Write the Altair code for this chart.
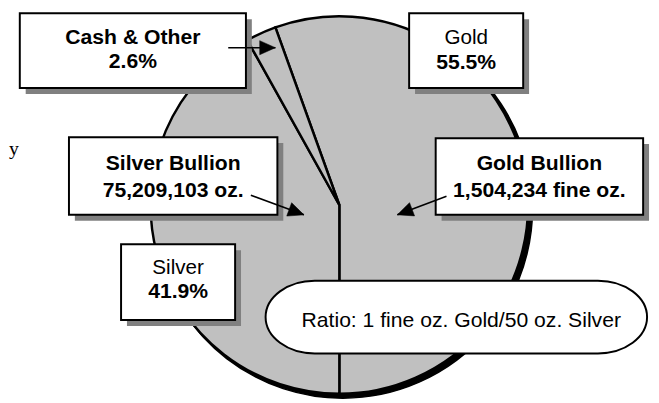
import math
import pandas as pd
import altair as alt

# ---------------- data ----------------
slices = ["Gold", "Silver", "Cash & Other"]
shares = [55.5, 41.9, 2.6]
pie_cx = [338]
pie_cy = [202]

box_line1 = ["Cash & Other", "Gold", "Silver Bullion", "Gold Bullion", "Silver"]
box_line2 = ["2.6%", "55.5%", "75,209,103 oz.", "1,504,234 fine oz.", "41.9%"]
line1_bold = [True, False, True, True, False]
box_x1 = [13, 409, 63, 436, 116]
box_x2 = [243, 525, 275, 647, 232]
box_y1 = [7, 7, 133, 134, 242]
box_y2 = [83, 83, 212, 212, 319]
line1_y = [32, 32, 160, 160, 266]
line2_y = [57, 58, 188, 188, 291]

note_text = ["Ratio: 1 fine oz. Gold/50 oz. Silver"]
note_x = [457]
note_y = [316]
note_text_x = [462]
note_text_y = [320]

arrow_x1 = [225, 248, 447]
arrow_y1 = [42, 192, 193]
arrow_x2 = [273, 302, 397]
arrow_y2 = [42, 212, 212]

stray_text = ["y"]
stray_x = [2]
stray_y = [151]

# ---------------- tables ----------------
FONT = "Liberation Sans"
SHADOW = 6

xs = alt.Scale(domain=[8, 651], nice=False, zero=False)
ys = alt.Scale(domain=[8, 395], nice=False, zero=False, reverse=True)

def X(f):
    return alt.X(f, type="quantitative", scale=xs, axis=None)

def Y(f):
    return alt.Y(f, type="quantitative", scale=ys, axis=None)

pie = pd.DataFrame({"slice": slices, "val": shares, "ord": range(len(slices)),
                    "cx": pie_cx * len(slices), "cy": pie_cy * len(slices)})
pie["sx"] = pie["cx"] + 3.5
pie["sy"] = pie["cy"] + 3.5
start = math.pi - 2 * math.pi * shares[0] / 100.0
theta = alt.Theta("val:Q", stack=True, scale=alt.Scale(range=[start, start + 2 * math.pi]))

pie_shadow = alt.Chart(pie).mark_arc(radius=193, fill="black", stroke="black", strokeWidth=1.5).encode(
    theta=theta, order=alt.Order("ord:Q"), x=X("sx"), y=Y("sy"))
pie_main = alt.Chart(pie).mark_arc(radius=192, fill="#c0c0c0", stroke="black", strokeWidth=2.5).encode(
    theta=theta, order=alt.Order("ord:Q"), x=X("cx"), y=Y("cy"))

boxes = pd.DataFrame({"x1": box_x1, "x2": box_x2, "y1": box_y1, "y2": box_y2})
boxes["sx1"] = boxes["x1"] + SHADOW
boxes["sx2"] = boxes["x2"] + SHADOW
boxes["sy1"] = boxes["y1"] + SHADOW
boxes["sy2"] = boxes["y2"] + SHADOW

box_shadow = alt.Chart(boxes).mark_rect(fill="#808080").encode(
    x=X("sx1"), x2="sx2", y=Y("sy1"), y2="sy2")
box_main = alt.Chart(boxes).mark_rect(fill="white", stroke="black", strokeWidth=2).encode(
    x=X("x1"), x2="x2", y=Y("y1"), y2="y2")

rows = []
for i in range(len(box_line1)):
    cx = (box_x1[i] + box_x2[i]) / 2
    rows.append({"t": box_line1[i], "x": cx, "y": line1_y[i], "bold": line1_bold[i]})
    rows.append({"t": box_line2[i], "x": cx, "y": line2_y[i], "bold": True})
texts = pd.DataFrame(rows)

text_bold = alt.Chart(texts[texts["bold"]]).mark_text(
    font=FONT, fontSize=21.5, fontWeight="bold", color="black", baseline="middle", align="center").encode(
    x=X("x"), y=Y("y"), text="t:N")
text_reg = alt.Chart(texts[~texts["bold"]]).mark_text(
    font=FONT, fontSize=21, color="black", baseline="middle", align="center").encode(
    x=X("x"), y=Y("y"), text="t:N")

# rounded "ellipse" note box
W = 388.0
H = 74.0
RX = 50.0
s = W / 2
a = 1 - RX / s
r = RX / s
h = (H / 2) / s
k = 0.5523
path = (f"M{-a},{-h}L{a},{-h}"
        f"C{a + k * r},{-h} {a + r},{-k * h} {a + r},0"
        f"C{a + r},{k * h} {a + k * r},{h} {a},{h}"
        f"L{-a},{h}"
        f"C{-a - k * r},{h} {-a - r},{k * h} {-a - r},0"
        f"C{-a - r},{-k * h} {-a - k * r},{-h} {-a},{-h}Z")
note = pd.DataFrame({"x": note_x, "y": note_y, "tx": note_text_x, "ty": note_text_y, "t": note_text})
note_shape = alt.Chart(note).mark_point(
    shape=path, size=W * W, filled=True, fill="white", stroke="black", strokeWidth=2, opacity=1).encode(
    x=X("x"), y=Y("y"))
note_label = alt.Chart(note).mark_text(
    font=FONT, fontSize=21.5, color="black", baseline="middle", align="center").encode(
    x=X("tx"), y=Y("ty"), text="t:N")

arrows = pd.DataFrame({"x1": arrow_x1, "y1": arrow_y1, "x2": arrow_x2, "y2": arrow_y2})
HEAD = 16.0
hx, hy, ang = [], [], []
for x1, y1, x2, y2 in zip(arrow_x1, arrow_y1, arrow_x2, arrow_y2):
    dx, dy = x2 - x1, y2 - y1
    L = math.hypot(dx, dy)
    hx.append(x2 - dx / L * HEAD / 2)
    hy.append(y2 - dy / L * HEAD / 2)
    ang.append(math.degrees(math.atan2(dx, -dy)) % 360)
arrows["hx"] = hx
arrows["hy"] = hy
arrows["ang"] = ang

arrow_lines = alt.Chart(arrows).mark_rule(color="black", strokeWidth=1.6).encode(
    x=X("x1"), x2="x2", y=Y("y1"), y2="y2")
head_path = "M0,-1L0.9,1L-0.9,1Z"
arrow_heads = alt.Chart(arrows).mark_point(
    shape=head_path, size=HEAD * HEAD, filled=True, fill="black", stroke="black", strokeWidth=0.5, opacity=1).encode(
    x=X("hx"), y=Y("hy"), angle=alt.Angle("ang:Q", scale=None))

stray = pd.DataFrame({"x": stray_x, "y": stray_y, "t": stray_text})
stray_label = alt.Chart(stray).mark_text(
    font="Liberation Serif", fontSize=20, color="black", align="left", baseline="alphabetic").encode(
    x=X("x"), y=Y("y"), text="t:N")

chart = alt.layer(
    pie_shadow, pie_main, box_shadow, box_main, note_shape, note_label,
    text_bold, text_reg, arrow_lines, arrow_heads, stray_label
).properties(width=643, height=387, padding=0, background="white").configure_view(stroke=None)

chart.save("out.html", embed_options={"renderer": "svg", "actions": False})
